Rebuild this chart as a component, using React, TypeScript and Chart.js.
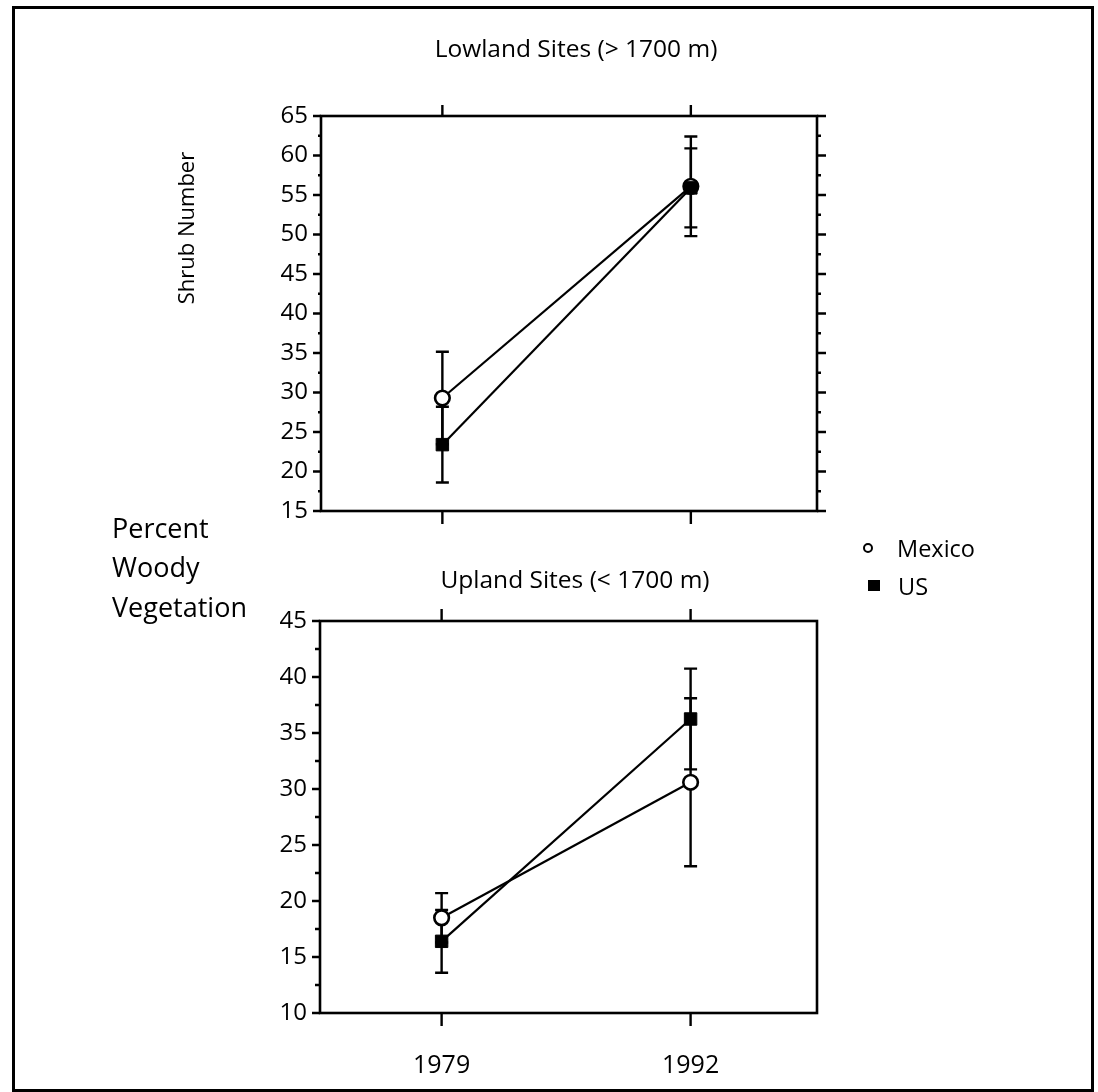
import React, { useEffect, useRef } from "react";
import { Chart, registerables } from "chart.js";
Chart.register(...registerables);

// ---- data ----
const years = [1979, 1992];
const seriesNames = ["Mexico", "US"];

const lowlandMexico = [29.3, 56.1];
const lowlandMexicoErr = [5.85, 6.3];
const lowlandUS = [23.4, 55.9];
const lowlandUSErr = [4.8, 5.0];

const uplandMexico = [18.5, 30.6];
const uplandMexicoErr = [2.2, 7.5];
const uplandUS = [16.4, 36.25];
const uplandUSErr = [2.8, 4.5];

const lowlandYTicks = [15, 20, 25, 30, 35, 40, 45, 50, 55, 60, 65];
const uplandYTicks = [10, 15, 20, 25, 30, 35, 40, 45];

const FONT = "'Open Sans', Lato, sans-serif";
const ASC = 1.069;
const LH = 1.362;

const framePlugin = {
  id: "frame",
  beforeDatasetsDraw(chart: any) {
    const ctx = chart.ctx;
    const xs = chart.scales.x;
    const ys = chart.scales.y;
    ctx.save();
    ctx.strokeStyle = "#000";
    ctx.lineWidth = 2.4;
    chart.data.datasets.forEach((ds: any) => {
      ds.data.forEach((p: any, j: number) => {
        const e = ds.errors[j];
        const px = xs.getPixelForValue(p.x);
        const y1 = ys.getPixelForValue(p.y + e);
        const y2 = ys.getPixelForValue(p.y - e);
        ctx.beginPath();
        ctx.moveTo(px, y1);
        ctx.lineTo(px, y2);
        ctx.moveTo(px - 6.5, y1);
        ctx.lineTo(px + 6.5, y1);
        ctx.moveTo(px - 6.5, y2);
        ctx.lineTo(px + 6.5, y2);
        ctx.stroke();
      });
    });
    ctx.restore();
  },
  afterDraw(chart: any, _args: any, opts: any) {
    const ctx = chart.ctx;
    const { left, right, top, bottom } = chart.chartArea;
    const xs = chart.scales.x;
    const ys = chart.scales.y;
    ctx.save();
    ctx.strokeStyle = "#000";
    ctx.lineWidth = 2.6;
    ctx.strokeRect(left, top, right - left, bottom - top);
    const majors: number[] = opts.yTicks;
    const minors: number[] = [];
    for (let i = 0; i < majors.length - 1; i++) minors.push((majors[i] + majors[i + 1]) / 2);
    ctx.lineWidth = 2.4;
    ctx.beginPath();
    majors.forEach((v) => {
      const py = ys.getPixelForValue(v);
      ctx.moveTo(left, py);
      ctx.lineTo(left - opts.leftMajor, py);
      if (opts.rightMajor) {
        ctx.moveTo(right, py);
        ctx.lineTo(right + opts.rightMajor, py);
      }
    });
    minors.forEach((v) => {
      const py = ys.getPixelForValue(v);
      ctx.moveTo(left, py);
      ctx.lineTo(left - opts.leftMinor, py);
      if (opts.rightMinor) {
        ctx.moveTo(right, py);
        ctx.lineTo(right + opts.rightMinor, py);
      }
    });
    years.forEach((yr) => {
      const px = xs.getPixelForValue(yr);
      ctx.moveTo(px, top);
      ctx.lineTo(px, top - opts.topTick);
      ctx.moveTo(px, bottom);
      ctx.lineTo(px, bottom + opts.bottomTick);
    });
    ctx.stroke();
    ctx.restore();
  },
};

function makeConfig(
  mex: number[], mexErr: number[], us: number[], usErr: number[],
  yTicks: number[], pad: any, yWidth: number, xHeight: number, showX: boolean, frame: any
) {
  const pts = (arr: number[]) => arr.map((v, i) => ({ x: years[i], y: v }));
  return {
    type: "line",
    data: {
      datasets: [
        {
          label: seriesNames[1],
          data: pts(us),
          errors: usErr,
          borderColor: "#000",
          borderWidth: 2.2,
          pointStyle: "rect",
          pointRadius: 8.8,
          pointBackgroundColor: "#000",
          pointBorderColor: "#000",
          pointBorderWidth: 1,
          fill: false,
        },
        {
          label: seriesNames[0],
          data: pts(mex),
          errors: mexErr,
          borderColor: "#000",
          borderWidth: 2.2,
          pointStyle: "circle",
          pointRadius: 7.3,
          pointBackgroundColor: "#fff",
          pointBorderColor: "#000",
          pointBorderWidth: 2.6,
          fill: false,
        },
      ],
    },
    options: {
      responsive: false,
      maintainAspectRatio: false,
      animation: false,
      layout: { padding: pad },
      plugins: { legend: { display: false }, tooltip: { enabled: false }, frame },
      scales: {
        x: {
          type: "linear",
          min: 1972.65,
          max: 1998.6,
          grid: { display: false, drawTicks: false },
          border: { display: false },
          ticks: { display: showX, color: "#000", font: { family: FONT, size: 25 }, padding: 38, callback: (v: any) => String(v) },
          afterBuildTicks: (s: any) => { s.ticks = years.map((v) => ({ value: v })); },
          afterFit: (s: any) => { s.height = xHeight; },
        },
        y: {
          min: yTicks[0],
          max: yTicks[yTicks.length - 1],
          grid: { display: false, drawTicks: false },
          border: { display: false },
          ticks: { color: "#000", font: { family: FONT, size: 24 }, padding: 13 },
          afterBuildTicks: (s: any) => { s.ticks = yTicks.map((v) => ({ value: v })); },
          afterFit: (s: any) => { s.width = yWidth; },
        },
      },
    },
    plugins: [framePlugin],
  } as any;
}

function ChartCanvas({ config, top, height }: { config: any; top: number; height: number }) {
  const ref = useRef<HTMLCanvasElement>(null);
  useEffect(() => {
    const c = new Chart(ref.current as HTMLCanvasElement, config);
    return () => c.destroy();
  }, []);
  return (
    <canvas
      ref={ref}
      width={1098}
      height={height}
      style={{ position: "absolute", left: 0, top, width: 1098, height, display: "block" }}
    />
  );
}

function Txt({ x, y, size, children, align = "left" }: any) {
  const style: any = {
    position: "absolute",
    top: y - ASC * size,
    left: x,
    fontFamily: FONT,
    fontSize: size,
    lineHeight: `${size * LH}px`,
    whiteSpace: "nowrap",
    color: "#000",
  };
  if (align === "center") style.transform = "translateX(-50%)";
  return <div style={style}>{children}</div>;
}

export default function App() {
  const topCfg = makeConfig(
    lowlandMexico, lowlandMexicoErr, lowlandUS, lowlandUSErr, lowlandYTicks,
    { left: 0, top: 116, right: 281, bottom: 34 }, 321, 0, false,
    { yTicks: lowlandYTicks, leftMajor: 8, leftMinor: 3, rightMajor: 9, rightMinor: 4, topTick: 11, bottomTick: 13 }
  );
  const botCfg = makeConfig(
    uplandMexico, uplandMexicoErr, uplandUS, uplandUSErr, uplandYTicks,
    { left: 0, top: 76, right: 281, bottom: 0 }, 320, 79, true,
    { yTicks: uplandYTicks, leftMajor: 8, leftMinor: 5, rightMajor: 0, rightMinor: 0, topTick: 12, bottomTick: 13 }
  );
  return (
    <div style={{ position: "absolute", left: 0, top: 0, width: 1098, height: 1092, background: "#fff", overflow: "hidden" }}>
      <ChartCanvas config={topCfg} top={0} height={545} />
      <ChartCanvas config={botCfg} top={545} height={547} />
      <div style={{ position: "absolute", left: 12, top: 6, width: 1076, height: 1080, border: "3px solid #000" }} />
      <Txt x={576} y={57} size={24.5} align="center">Lowland Sites (&gt; 1700 m)</Txt>
      <Txt x={575} y={588} size={24.5} align="center">Upland Sites (&lt; 1700 m)</Txt>
      <div
        style={{
          position: "absolute",
          left: 185,
          top: 228,
          transform: "translate(-50%, -50%) rotate(-90deg)",
          fontFamily: FONT,
          fontSize: 22,
          lineHeight: "30px",
          whiteSpace: "nowrap",
          color: "#000",
        }}
      >
        Shrub Number
      </div>
      <Txt x={112} y={539} size={27}>Percent</Txt>
      <Txt x={112} y={578} size={27}>Woody</Txt>
      <Txt x={112} y={618} size={27}>Vegetation</Txt>
      <div style={{ position: "absolute", left: 863, top: 542.5, width: 6, height: 6, borderRadius: "50%", border: "2.5px solid #000", background: "#fff" }} />
      <Txt x={897} y={557} size={23.5}>{seriesNames[0]}</Txt>
      <div style={{ position: "absolute", left: 868, top: 580, width: 11.5, height: 11, background: "#000" }} />
      <Txt x={898} y={595} size={23.5}>{seriesNames[1]}</Txt>
    </div>
  );
}
